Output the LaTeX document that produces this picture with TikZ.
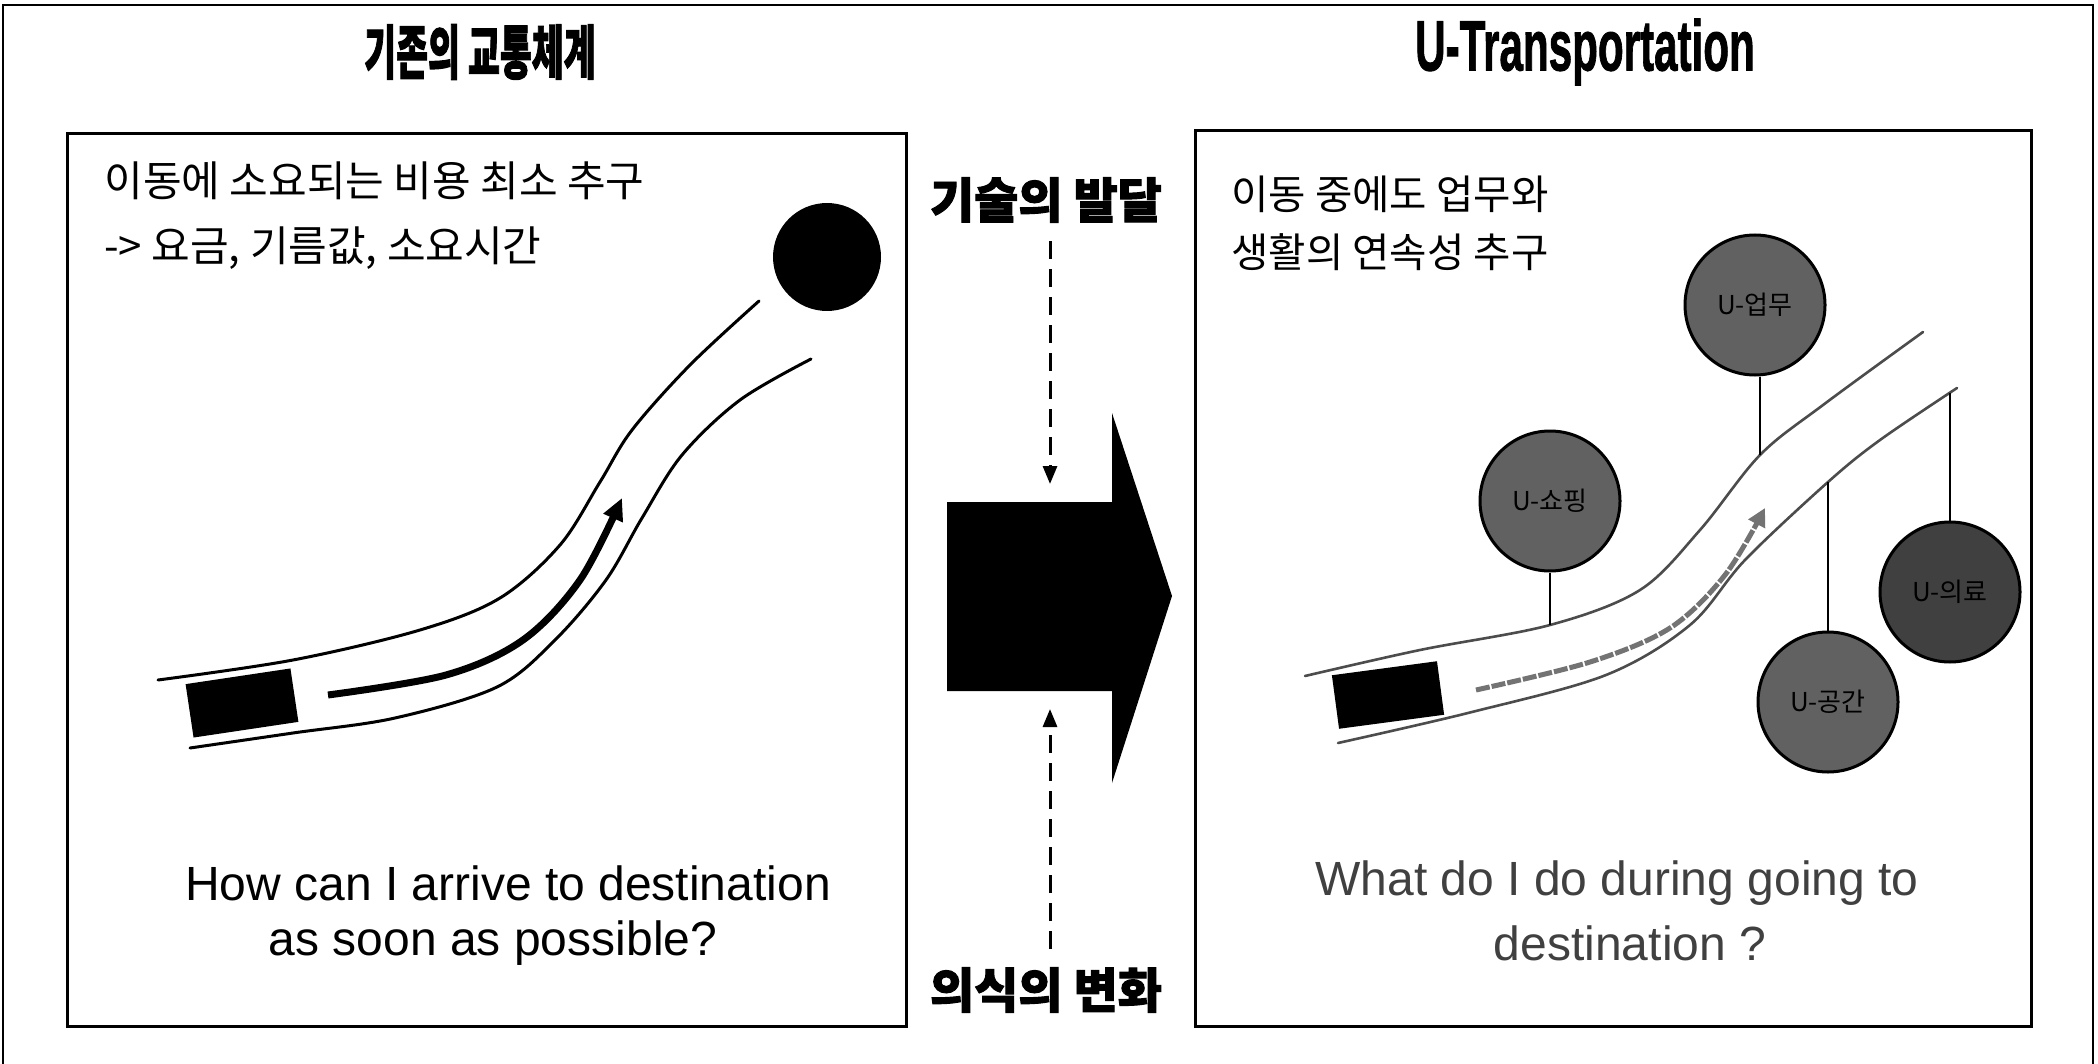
\documentclass[tikz,border=0pt]{standalone}
\usepackage{fontspec}
\setmainfont{Liberation Sans}
\newfontfamily\kr{Noto Sans CJK KR}
\newfontfamily\krh{Noto Sans CJK KR}[FakeBold=2]
\newfontfamily\lsh{Liberation Sans}[FakeBold=1.5]
\usetikzlibrary{arrows.meta}
\begin{document}
\begin{tikzpicture}[x=0.5pt,y=-0.5pt,
  frame/.style={line width=1.2pt},
  panel/.style={draw,line width=1.5pt},
  road/.style={line width=1.5pt,line cap=round},
  uroad/.style={line width=1.3pt,black!70,line cap=round},
  carbox/.style={fill=black,inner sep=0pt,minimum width=53pt,minimum height=27pt},
  ucirc/.style={circle,draw=black,line width=1.5pt,fill=black!62,minimum size=70pt,inner sep=0pt,font=\kr\fontsize{13}{15}\selectfont},
  stem/.style={line width=1.3pt},
  ktext/.style={anchor=west,inner sep=0pt,font=\kr\fontsize{21}{25}\selectfont},
  etext/.style={inner sep=0pt,font=\fontsize{24}{28}\selectfont},
  midlbl/.style={inner sep=0pt,font=\krh\bfseries\fontsize{24}{28}\selectfont},
  dasharrow/.style={line width=1.5pt,dash pattern=on 9pt off 5pt,-{Triangle[length=9pt,width=7pt]}},
]
\useasboundingbox (0,0) rectangle (2098,1064);
\fill[white] (0,0) rectangle (2098,1064);
\draw[frame] (3,1064) -- (3,5) -- (2093,5) -- (2093,1064);

% titles
\node[inner sep=0pt] (title1) at (480,52) {\scalebox{0.62}[1.05]{\krh\bfseries\fontsize{28}{30}\selectfont 기존의 교통체계}};
\node[inner sep=0pt] (title2) at (1585,52) {\scalebox{0.62}[1.05]{\lsh\bfseries\fontsize{34}{36}\selectfont U-Transportation}};

% panels
\draw[panel] (67,134) rectangle (906,1026);
\draw[panel] (1195,131) rectangle (2031,1026);

% ---------- left panel ----------
\node[ktext] (l1) at (104,181) {이동에 소요되는 비용 최소 추구};
\node[ktext] (l2) at (104,248) {-> 요금, 기름값, 소요시간};
\node[circle,fill=black,minimum size=54pt,inner sep=0pt] (dest) at (827,257) {};
\draw[road] plot[smooth,tension=0.55] coordinates {(158,680) (293,660) (420,630) (500,598) (560,545) (600,482) (632,430) (690,365) (759,301)};
\draw[road] plot[smooth,tension=0.55] coordinates {(190,748) (293,733) (395,718) (497,687) (555,640) (606,580) (642,518) (682,455) (740,400) (811,359)};
\node[carbox,rotate=8.5] (car1) at (242,703) {};
\draw[line width=3.5pt,-{Triangle[length=11pt,width=10pt]}] plot[smooth,tension=0.55] coordinates {(328,695) (446,675) (523,640) (580,580) (622,498)};
\node[etext] (q1) at (508,883) {How can I arrive to destination};
\node[etext] (q2) at (493,943) {as soon as possible?};

% ---------- middle ----------
\fill (947,502) -- (1112,502) -- (1112,413) -- (1172,596) -- (1112,783) -- (1112,691) -- (947,691) -- cycle;
\node[midlbl] (tech) at (1046,200) {기술의 발달};
\node[midlbl] (mind) at (1046,990) {의식의 변화};
\coordinate (bigtop) at (1050,484);
\coordinate (bigbot) at (1050,709);
\draw[dasharrow] ([yshift=-9pt]tech.south -| bigtop) -- (bigtop);
\draw[dasharrow] ([yshift=9pt]mind.north -| bigbot) -- (bigbot);

% ---------- right panel ----------
\node[ktext,font=\kr\fontsize{20.3}{24}\selectfont] (r1) at (1231,194) {이동 중에도 업무와};
\node[ktext,font=\kr\fontsize{20.3}{24}\selectfont] (r2) at (1231,252) {생활의 연속성 추구};
\draw[uroad] plot[smooth,tension=0.55] coordinates {(1305,676) (1420,650) (1550,625) (1640,590) (1700,530) (1760,455) (1823,405) (1923,332)};
\draw[uroad] plot[smooth,tension=0.55] coordinates {(1338,743) (1472,712) (1606,675) (1690,625) (1745,560) (1828,482) (1880,440) (1957,388)};
\coordinate (s1) at (1550,625);
\coordinate (s2) at (1760,455);
\coordinate (s3) at (1950,393);
\coordinate (s4) at (1828,482);
\node[carbox,rotate=7.6] (car2) at (1388,695) {};
\draw[black!55,line width=2.5pt,dash pattern=on 7pt off 1pt,-{Triangle[length=9pt,width=9pt]}] plot[smooth,tension=0.55] coordinates {(1476,690) (1590,662) (1670,628) (1725,575) (1765,508)};
\node[ucirc] (c1) at (1550,501) {U-쇼핑};
\node[ucirc] (c2) at (1755,305) {U-업무};
\node[ucirc,fill=black!75] (c3) at (1950,592) {U-의료};
\node[ucirc] (c4) at (1828,702) {U-공간};
\draw[stem] (c1) -- (s1);
\draw[stem] (c2.south -| s2) -- (s2);
\draw[stem] (c3) -- (s3);
\draw[stem] (c4) -- (s4);
\node[etext,text=black!75] (w1) at (1617,883) {What do I do during going to};
\node[etext,text=black!75] (w2) at (1630,943) {destination ?};
\end{tikzpicture}
\end{document}
